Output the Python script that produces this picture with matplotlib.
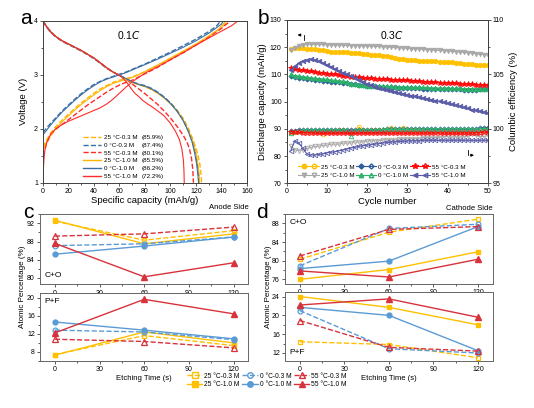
#!/usr/bin/env python
"""charge/discharge curves, cycling and XPS depth profiles (4 panel figure)"""

import numpy as np
import matplotlib
matplotlib.use('Agg')
import matplotlib.pyplot as plt
from matplotlib.lines import Line2D
from matplotlib.legend_handler import HandlerTuple
from matplotlib.ticker import MultipleLocator

plt.rcParams['font.family'] = ['Liberation Sans', 'DejaVu Sans']
plt.rcParams['axes.linewidth'] = 0.7

#################
### PANEL a DATA
#################
# discharge (4 V -> 1 V)
dis_cap_b1 = [0, 1, 3, 6, 10, 15, 20, 25, 30, 35, 40, 45, 50, 55, 60, 65, 70, 75, 80, 85, 90, 95, 100, 105, 110, 114, 117, 119, 120.5, 121.5, 122]
dis_v_b1 = [4.0, 3.96, 3.89, 3.80, 3.71, 3.63, 3.57, 3.51, 3.45, 3.38, 3.31, 3.22, 3.13, 3.05, 2.99, 2.93, 2.87, 2.82, 2.79, 2.74, 2.67, 2.58, 2.47, 2.33, 2.15, 1.95, 1.75, 1.55, 1.35, 1.15, 1.0]
dis_cap_b3 = [0, 1, 3, 6, 10, 15, 20, 25, 30, 35, 40, 45, 50, 55, 60, 65, 70, 75, 80, 85, 90, 95, 100, 105, 110, 114, 117.5, 119.5, 121, 122, 122.5]
dis_v_b3 = [3.99, 3.95, 3.88, 3.79, 3.70, 3.62, 3.56, 3.50, 3.44, 3.37, 3.30, 3.21, 3.12, 3.05, 2.99, 2.93, 2.87, 2.83, 2.80, 2.75, 2.68, 2.59, 2.48, 2.34, 2.16, 1.96, 1.75, 1.55, 1.35, 1.15, 1.0]
dis_cap_y1 = [0, 1, 3, 6, 10, 15, 20, 25, 30, 35, 40, 45, 50, 55, 60, 65, 70, 75, 80, 85, 90, 95, 100, 105, 110, 114, 117.5, 120, 121.5, 122.5, 123]
dis_v_y1 = [4.0, 3.96, 3.89, 3.80, 3.71, 3.63, 3.57, 3.51, 3.45, 3.38, 3.31, 3.22, 3.13, 3.05, 2.99, 2.92, 2.86, 2.82, 2.78, 2.73, 2.66, 2.57, 2.46, 2.33, 2.16, 1.97, 1.77, 1.56, 1.35, 1.15, 1.0]
dis_cap_y3 = [0, 1, 3, 6, 10, 15, 20, 25, 30, 35, 40, 45, 50, 55, 60, 65, 70, 75, 80, 85, 90, 95, 100, 105, 110, 114, 118, 121, 123, 124, 124.5]
dis_v_y3 = [4.0, 3.96, 3.89, 3.80, 3.71, 3.63, 3.57, 3.51, 3.45, 3.38, 3.31, 3.22, 3.13, 3.05, 2.99, 2.92, 2.86, 2.82, 2.78, 2.73, 2.66, 2.58, 2.48, 2.35, 2.19, 2.01, 1.78, 1.56, 1.35, 1.15, 1.0]
dis_cap_r3 = [0, 1, 3, 6, 10, 15, 20, 25, 30, 35, 40, 45, 50, 55, 60, 65, 70, 75, 80, 85, 90, 95, 100, 105, 110, 113, 115, 116.5, 117.5, 118]
dis_v_r3 = [4.0, 3.96, 3.89, 3.80, 3.71, 3.63, 3.57, 3.51, 3.45, 3.38, 3.31, 3.22, 3.13, 3.05, 2.99, 2.92, 2.83, 2.74, 2.65, 2.55, 2.45, 2.33, 2.20, 2.05, 1.88, 1.75, 1.62, 1.45, 1.25, 1.0]
dis_cap_r1 = [0, 1, 3, 6, 10, 15, 20, 25, 30, 35, 40, 45, 50, 55, 60, 63, 66, 69, 72, 75, 78, 82, 86, 90, 95, 100, 104, 107, 109, 110.2, 110.6, 110.8]
dis_v_r1 = [3.98, 3.95, 3.88, 3.79, 3.71, 3.63, 3.57, 3.51, 3.45, 3.38, 3.31, 3.22, 3.13, 3.05, 2.99, 2.93, 2.85, 2.75, 2.66, 2.60, 2.53, 2.46, 2.40, 2.33, 2.24, 2.10, 1.95, 1.80, 1.62, 1.40, 1.20, 1.0]

# charge (low V -> 4 V)
chg_cap_b1 = [0, 1, 3, 6, 10, 15, 20, 25, 30, 35, 40, 45, 50, 55, 60, 65, 70, 75, 80, 90, 100, 110, 120, 130, 136, 140, 141.5]
chg_v_b1 = [1.88, 1.92, 1.98, 2.07, 2.18, 2.31, 2.42, 2.53, 2.63, 2.72, 2.80, 2.87, 2.92, 2.96, 3.00, 3.04, 3.09, 3.14, 3.19, 3.29, 3.40, 3.51, 3.63, 3.77, 3.87, 3.94, 4.0]
chg_cap_b3 = [0, 1, 3, 6, 10, 15, 20, 25, 30, 35, 40, 45, 50, 55, 60, 65, 70, 75, 80, 90, 100, 110, 120, 130, 136, 139.5]
chg_v_b3 = [1.93, 1.96, 2.02, 2.10, 2.20, 2.33, 2.44, 2.55, 2.65, 2.74, 2.82, 2.88, 2.93, 2.97, 3.01, 3.05, 3.10, 3.15, 3.20, 3.31, 3.42, 3.54, 3.66, 3.80, 3.90, 4.0]
chg_cap_y1 = [0, 1, 3, 6, 10, 15, 20, 25, 30, 35, 40, 45, 50, 55, 60, 65, 70, 75, 80, 90, 100, 110, 120, 130, 138, 143.5]
chg_v_y1 = [1.60, 1.66, 1.76, 1.88, 2.00, 2.13, 2.24, 2.35, 2.45, 2.54, 2.63, 2.71, 2.78, 2.84, 2.88, 2.91, 2.95, 3.00, 3.06, 3.18, 3.31, 3.44, 3.57, 3.72, 3.85, 4.0]
chg_cap_y3 = [0, 1, 3, 6, 10, 15, 20, 25, 30, 35, 40, 45, 50, 55, 60, 65, 70, 75, 80, 90, 100, 110, 120, 130, 140, 145]
chg_v_y3 = [1.66, 1.71, 1.80, 1.92, 2.04, 2.16, 2.27, 2.38, 2.48, 2.57, 2.66, 2.74, 2.80, 2.86, 2.90, 2.93, 2.96, 3.01, 3.06, 3.18, 3.30, 3.43, 3.56, 3.70, 3.87, 4.0]
chg_cap_r3 = [0, 1, 3, 6, 10, 15, 20, 25, 30, 35, 40, 45, 50, 55, 60, 65, 70, 75, 80, 90, 100, 110, 120, 130, 140, 147]
chg_v_r3 = [1.50, 1.60, 1.74, 1.88, 1.99, 2.08, 2.17, 2.26, 2.35, 2.44, 2.52, 2.60, 2.68, 2.75, 2.81, 2.86, 2.90, 2.96, 3.02, 3.14, 3.28, 3.41, 3.55, 3.70, 3.86, 4.0]
chg_cap_r1 = [0, 0.3, 0.8, 1.5, 3, 6, 10, 15, 20, 25, 30, 35, 40, 45, 50, 55, 60, 65, 70, 75, 80, 90, 100, 110, 120, 130, 140, 148, 153]
chg_v_r1 = [1.0, 1.25, 1.45, 1.60, 1.75, 1.90, 2.00, 2.08, 2.14, 2.19, 2.24, 2.29, 2.34, 2.39, 2.46, 2.55, 2.66, 2.77, 2.87, 2.95, 3.03, 3.15, 3.28, 3.41, 3.55, 3.68, 3.81, 3.91, 4.0]

a_labels = ['25 \u00b0C-0.3 M', '0 \u00b0C-0.3 M', '55 \u00b0C-0.3 M',
            '25 \u00b0C-1.0 M', '0 \u00b0C-1.0 M', '55 \u00b0C-1.0 M']
a_effs = ['(85.9%)', '(87.4%)', '(80.1%)', '(85.5%)', '(86.2%)', '(72.2%)']

#################
### PANEL b DATA
#################
cycles = np.arange(1, 51)
cap_25_03 = [119.5, 119.6, 119.7, 119.6, 119.5, 119.3, 119.2, 119.0, 118.8, 118.5,
             118.4, 118.4, 118.3, 118.2, 118.1, 118.0, 117.9, 117.8, 117.6, 117.5,
             117.3, 117.2, 117.0, 116.8, 116.7, 116.5, 116.0, 115.6, 115.5, 115.4,
             115.3, 115.2, 115.1, 115.0, 114.9, 114.9, 114.8, 114.7, 114.6, 114.5,
             114.4, 114.3, 114.1, 114.0, 113.9, 113.8, 113.6, 113.5, 113.4, 113.4]
cap_25_10 = [119.0, 119.8, 120.5, 120.8, 121.0, 121.1, 121.1, 121.0, 121.0, 120.9,
             120.9, 120.8, 120.8, 120.7, 120.7, 120.6, 120.6, 120.5, 120.5, 120.5,
             120.4, 120.3, 120.3, 120.2, 120.1, 120.0, 119.9, 119.8, 119.7, 119.6,
             119.5, 119.4, 119.3, 119.2, 119.1, 119.0, 118.9, 118.8, 118.7, 118.6,
             118.5, 118.4, 118.2, 118.1, 118.0, 117.8, 117.6, 117.5, 117.3, 117.2]
cap_55_03 = [112.5, 112.0, 111.8, 111.5, 111.3, 111.1, 110.9, 110.7, 110.5, 110.3,
             110.1, 110.0, 109.8, 109.6, 109.4, 109.2, 109.0, 108.9, 108.8, 108.7,
             108.6, 108.5, 108.4, 108.3, 108.2, 108.1, 108.0, 107.9, 107.9, 107.8,
             107.7, 107.6, 107.5, 107.4, 107.3, 107.2, 107.1, 107.0, 106.9, 106.9,
             106.8, 106.7, 106.6, 106.6, 106.5, 106.4, 106.3, 106.3, 106.2, 106.1]
cap_0_10 = [110.0, 109.6, 109.4, 109.2, 109.0, 108.8, 108.6, 108.5, 108.3, 108.2,
            108.0, 107.8, 107.6, 107.5, 107.3, 106.6, 106.4, 106.2, 106.0, 105.9,
            105.8, 105.8, 105.7, 105.7, 105.6, 105.6, 105.5, 105.5, 105.4, 105.4,
            105.3, 105.3, 105.3, 105.2, 105.2, 105.1, 105.1, 105.0, 105.0, 105.0,
            104.9, 104.9, 104.9, 104.8, 104.8, 104.8, 104.7, 104.7, 104.7, 104.7]
cap_0_03 = [109.3, 109.0, 108.8, 108.6, 108.4, 108.2, 108.0, 107.9, 107.7, 107.6,
            107.4, 107.3, 107.1, 107.0, 106.8, 106.6, 106.4, 106.2, 106.0, 105.8,
            105.7, 105.6, 105.5, 105.4, 105.4, 105.3, 105.2, 105.1, 105.1, 105.0,
            105.0, 104.9, 104.9, 104.8, 104.8, 104.7, 104.7, 104.6, 104.6, 104.6,
            104.5, 104.5, 104.5, 104.4, 104.4, 104.4, 104.4, 104.5, 104.6, 104.6]
cap_55_10 = [111.5, 113.0, 114.2, 115.0, 115.3, 115.5, 115.3, 114.8, 114.2, 113.5,
             112.8, 112.0, 111.3, 110.6, 110.0, 109.3, 108.6, 107.9, 107.2, 106.6,
             106.0, 105.5, 105.0, 104.6, 104.3, 104.0, 103.6, 103.2, 102.9, 102.5,
             102.2, 101.9, 101.6, 101.3, 101.0, 100.7, 100.4, 100.1, 99.8, 99.5,
             99.1, 98.7, 98.3, 97.9, 97.5, 97.1, 96.8, 96.5, 96.2, 95.9]

ce_25_03 = [99.7, 99.7, 99.8, 99.8, 99.8, 99.8, 99.8, 99.8, 99.5, 99.8,
            99.8, 99.8, 99.9, 99.9, 99.8, 99.8, 99.8, 100.15, 99.9, 99.8,
            99.9, 99.9, 99.9, 99.9, 99.9, 100.1, 99.9, 99.9, 100.1, 99.9,
            99.9, 99.9, 99.9, 99.9, 99.9, 99.9, 99.9, 99.9, 99.9, 99.9,
            99.9, 99.9, 99.9, 99.9, 99.9, 99.9, 99.9, 99.9, 100.0, 100.1]
ce_55_03 = [99.75, 99.7, 99.7, 99.65, 99.65, 99.65, 99.6, 99.6, 99.6, 99.6,
            99.6, 99.6, 99.6, 99.6, 99.6, 99.6, 99.6, 99.6, 99.6, 99.6,
            99.6, 99.6, 99.6, 99.6, 99.6, 99.6, 99.6, 99.6, 99.6, 99.6,
            99.6, 99.6, 99.6, 99.6, 99.6, 99.6, 99.6, 99.6, 99.6, 99.6,
            99.6, 99.6, 99.6, 99.6, 99.6, 99.6, 99.65, 99.65, 99.7, 99.7]
ce_0_10 = [99.6, 99.8, 99.85, 99.9, 99.9, 99.9, 99.9, 99.9, 99.9, 99.9,
           99.9, 99.9, 99.9, 99.9, 99.9, 99.35, 99.9, 99.9, 99.9, 99.9,
           99.9, 99.9, 99.9, 99.95, 99.95, 99.95, 99.95, 99.95, 99.95, 99.95,
           99.95, 99.95, 99.95, 100.0, 100.0, 100.0, 100.0, 100.0, 100.0, 100.0,
           100.0, 100.0, 100.0, 100.0, 100.0, 100.0, 100.0, 100.0, 100.0, 100.0]
ce_0_03 = [99.8, 99.85, 99.9, 99.9, 99.9, 99.9, 99.9, 99.9, 99.9, 99.9,
           99.9, 99.9, 99.9, 99.9, 99.9, 99.9, 99.9, 99.9, 99.9, 99.9,
           99.9, 99.9, 99.9, 99.9, 99.95, 99.95, 99.95, 99.95, 99.95, 99.95,
           99.95, 99.95, 99.95, 100.0, 99.95, 99.95, 99.95, 99.95, 99.95, 99.95,
           99.95, 99.95, 99.95, 99.95, 99.95, 99.95, 99.95, 100.1, 100.1, 100.1]
ce_25_10 = [98.4, 98.1, 98.0, 98.1, 98.2, 98.3, 98.4, 98.4, 98.5, 98.5,
            98.6, 98.6, 98.6, 98.7, 98.7, 98.7, 98.8, 98.8, 98.8, 98.9,
            98.9, 98.9, 98.9, 99.0, 99.0, 99.0, 99.0, 99.1, 99.1, 99.1,
            99.1, 99.1, 99.1, 99.2, 99.2, 99.2, 99.2, 99.2, 99.3, 99.3,
            99.2, 99.3, 99.2, 99.3, 99.3, 99.5, 99.4, 99.3, 99.3, 99.4]
ce_55_10 = [98.0, 98.9, 98.7, 98.2, 97.7, 97.6, 97.6, 97.65, 97.7, 97.8,
            97.85, 97.9, 98.0, 98.05, 98.15, 98.25, 98.3, 98.4, 98.45, 98.5,
            98.55, 98.6, 98.65, 98.7, 98.75, 98.8, 98.8, 98.85, 98.85, 98.9,
            98.9, 98.9, 98.9, 98.95, 98.95, 98.95, 98.95, 98.95, 98.95, 98.95,
            98.95, 98.95, 98.95, 98.95, 98.95, 98.95, 98.95, 98.95, 98.95, 98.95]

####################
### PANEL c/d DATA
####################
etch = [0, 60, 120]
# anode side
an_co_25_03 = [92.5, 88.3, 90.4]
an_co_25_10 = [92.7, 87.5, 89.7]
an_co_0_03 = [87.1, 87.5, 89.0]
an_co_0_10 = [85.2, 87.0, 89.0]
an_co_55_03 = [89.2, 89.7, 91.2]
an_co_55_10 = [87.6, 80.2, 83.3]
an_pf_25_03 = [7.4, 11.6, 9.4]
an_pf_25_10 = [7.3, 12.4, 10.0]
an_pf_0_03 = [12.8, 12.4, 10.7]
an_pf_0_10 = [14.6, 12.8, 10.9]
an_pf_55_03 = [10.8, 10.3, 8.9]
an_pf_55_10 = [12.2, 19.6, 16.4]
# cathode side
ca_co_25_03 = [80.3, 86.1, 88.9]
ca_co_25_10 = [76.0, 78.1, 81.9]
ca_co_0_03 = [78.9, 86.9, 87.8]
ca_co_0_10 = [78.3, 79.9, 87.3]
ca_co_55_03 = [81.0, 86.7, 87.3]
ca_co_55_10 = [77.8, 76.5, 80.3]
ca_pf_25_03 = [14.4, 13.8, 11.0]
ca_pf_25_10 = [24.0, 21.7, 18.0]
ca_pf_0_03 = [21.0, 12.9, 12.0]
ca_pf_0_10 = [21.7, 20.0, 12.5]
ca_pf_55_03 = [18.9, 13.2, 12.4]
ca_pf_55_10 = [22.2, 23.5, 19.6]

cond_labels = ['25 \u00b0C-0.3 M', '25 \u00b0C-1.0 M', '0 \u00b0C-0.3 M',
               '0 \u00b0C-1.0 M', '55 \u00b0C-0.3 M', '55 \u00b0C-1.0 M']

# colours
A_YEL, A_BLU, A_RED = '#FFB400', '#3A6EA6', '#FF2B2B'
B_YEL, B_BLU, B_RED, B_GRY, B_GRN, B_PUR = '#FFC000', '#2E5D9E', '#FF0A0A', '#A8A8A8', '#2DB36A', '#5A5CA8'
C_YEL, C_BLU, C_RED = '#FFC000', '#5B9BD5', '#D8323C'
SPINE = '#404040'

tickFont = 5.0
labelFont = 6.8


def styleAxes(ax):
    for s in ax.spines.values():
        s.set_color(SPINE)
    ax.tick_params(which='both', direction='out', labelsize=tickFont, width=0.6,
                   color=SPINE, pad=1.2)
    ax.tick_params(which='major', length=2.5)
    ax.tick_params(which='minor', length=1.5)


fig = plt.figure(figsize=(5.34, 4.08), dpi=100)

#######################
### PANEL a
#######################
ax_a = fig.add_axes([0.0805, 0.552, 0.382, 0.397])
ax_a.plot(dis_cap_y3, dis_v_y3, '--', color=A_YEL, lw=1.0)
ax_a.plot(chg_cap_y3, chg_v_y3, '--', color=A_YEL, lw=1.0)
ax_a.plot(dis_cap_b3, dis_v_b3, '--', color=A_BLU, lw=1.0)
ax_a.plot(chg_cap_b3, chg_v_b3, '--', color=A_BLU, lw=1.0)
ax_a.plot(dis_cap_r3, dis_v_r3, '--', color=A_RED, lw=1.0)
ax_a.plot(chg_cap_r3, chg_v_r3, '--', color=A_RED, lw=1.0)
ax_a.plot(dis_cap_y1, dis_v_y1, '-', color=A_YEL, lw=0.8)
ax_a.plot(chg_cap_y1, chg_v_y1, '-', color=A_YEL, lw=0.8)
ax_a.plot(dis_cap_b1, dis_v_b1, '-', color=A_BLU, lw=0.8)
ax_a.plot(chg_cap_b1, chg_v_b1, '-', color=A_BLU, lw=0.8)
ax_a.plot(dis_cap_r1, dis_v_r1, '-', color=A_RED, lw=0.8)
ax_a.plot(chg_cap_r1, chg_v_r1, '-', color=A_RED, lw=0.8)
ax_a.set_xlim(0, 160)
ax_a.set_ylim(1, 4)
ax_a.xaxis.set_major_locator(MultipleLocator(20))
ax_a.xaxis.set_minor_locator(MultipleLocator(10))
ax_a.yaxis.set_major_locator(MultipleLocator(1))
ax_a.yaxis.set_minor_locator(MultipleLocator(0.5))
styleAxes(ax_a)
ax_a.set_xlabel('Specific capacity (mAh/g)', fontsize=labelFont, labelpad=1)
ax_a.set_ylabel('Voltage (V)', fontsize=labelFont, labelpad=4)
ax_a.text(0.42, 0.91, '0.1$\\it{C}$', transform=ax_a.transAxes, fontsize=7.5,
          ha='center', va='center')

a_styles = ['--', '--', '--', '-', '-', '-']
a_cols = [A_YEL, A_BLU, A_RED, A_YEL, A_BLU, A_RED]
a_handles = [Line2D([], [], ls=a_styles[i], color=a_cols[i], lw=1.0) for i in range(6)]
a_blank = [Line2D([], [], color='none') for i in range(6)]
ax_a.legend(a_handles + a_blank, a_labels + a_effs, ncol=2, loc='lower left',
            bbox_to_anchor=(0.17, -0.01), frameon=False, fontsize=4.5,
            handlelength=2.8, handletextpad=0.5, columnspacing=-2.6,
            labelspacing=0.38)

#######################
### PANEL b
#######################
ax_b = fig.add_axes([0.537, 0.5507, 0.3764, 0.4003])
ax_b2 = ax_b.twinx()
ms = 3.2
b_series = [
    (cap_25_03, ce_25_03, B_YEL, 'o'),
    (cap_25_10, ce_25_10, B_GRY, 'v'),
    (cap_0_03, ce_0_03, B_BLU, 'D'),
    (cap_0_10, ce_0_10, B_GRN, '^'),
    (cap_55_03, ce_55_03, B_RED, '*'),
    (cap_55_10, ce_55_10, B_PUR, '<'),
]
b_handles = []
for cap, ce, col, mk in b_series:
    size = ms + 1.2 if mk == '*' else (ms - 0.6 if mk == 'D' else ms)
    ax_b.plot(cycles, cap, '-', color=col, marker=mk, ms=size, lw=0.8, mew=0.6)
    ax_b2.plot(cycles, ce, '-', color=col, marker=mk, ms=size, lw=0.8, mew=0.6,
               mfc='none')
    hf = Line2D([], [], color=col, marker=mk, ms=size, lw=0.8)
    ho = Line2D([], [], color=col, marker=mk, ms=size, lw=0.8, mfc='none')
    b_handles.append((hf, ho))

ax_b.set_xlim(0, 50)
ax_b.set_ylim(70, 130)
ax_b2.set_ylim(95, 110)
ax_b.xaxis.set_major_locator(MultipleLocator(10))
ax_b.xaxis.set_minor_locator(MultipleLocator(5))
ax_b.yaxis.set_major_locator(MultipleLocator(10))
ax_b.yaxis.set_minor_locator(MultipleLocator(5))
ax_b2.yaxis.set_major_locator(MultipleLocator(5))
ax_b2.yaxis.set_minor_locator(MultipleLocator(2.5))
styleAxes(ax_b)
styleAxes(ax_b2)
ax_b.set_xlabel('Cycle number', fontsize=labelFont, labelpad=1)
ax_b.set_ylabel('Discharge capacity (mAh/g)', fontsize=labelFont, labelpad=2)
ax_b2.set_ylabel('Columbic efficiency (%)', fontsize=labelFont, labelpad=3)
ax_b.text(0.524, 0.908, '0.3$\\it{C}$', transform=ax_b.transAxes, fontsize=7.5,
          ha='center', va='center')

# direction hints for the two y axes
ax_b.annotate('', xy=(0.04, 0.908), xytext=(0.085, 0.908), xycoords='axes fraction',
              arrowprops=dict(arrowstyle='-|>', color='k', lw=0.6, mutation_scale=4))
ax_b.plot([0.085, 0.085], [0.908, 0.875], color='k', lw=0.6, transform=ax_b.transAxes)
ax_b.annotate('', xy=(0.945, 0.172), xytext=(0.9, 0.172), xycoords='axes fraction',
              arrowprops=dict(arrowstyle='-|>', color='k', lw=0.6, mutation_scale=4))
ax_b.plot([0.9, 0.9], [0.205, 0.172], color='k', lw=0.6, transform=ax_b.transAxes)

ax_b2.legend(b_handles, cond_labels, handler_map={tuple: HandlerTuple(ndivide=None, pad=0)},
             ncol=3, loc='lower left', bbox_to_anchor=(0.03, 0.0), frameon=False,
             fontsize=4.5, handlelength=3.3, handletextpad=0.3, columnspacing=0.2,
             labelspacing=0.45)

#######################
### PANELS c and d
#######################
def plotXps(ax, vals):
    y03, y10, b03, b10, r03, r10 = vals
    ax.plot(etch, y03, '--', color=C_YEL, marker='s', ms=3.5, mfc='none', lw=1.0, mew=0.9)
    ax.plot(etch, y10, '-', color=C_YEL, marker='s', ms=3.5, lw=1.0)
    ax.plot(etch, b03, '--', color=C_BLU, marker='o', ms=3.5, mfc='none', lw=1.0, mew=0.9)
    ax.plot(etch, b10, '-', color=C_BLU, marker='o', ms=3.5, lw=1.0)
    ax.plot(etch, r03, '--', color=C_RED, marker='^', ms=3.8, mfc='none', lw=1.0, mew=0.9)
    ax.plot(etch, r10, '-', color=C_RED, marker='^', ms=3.8, lw=1.0)
    ax.set_xlim(-10, 130)
    ax.xaxis.set_major_locator(MultipleLocator(30))
    ax.xaxis.set_minor_locator(MultipleLocator(15))
    styleAxes(ax)
    for s in ax.spines.values():
        s.set_color('#666666')


ax_c1 = fig.add_axes([0.0749, 0.3027, 0.3904, 0.174])
ax_c2 = fig.add_axes([0.0749, 0.1152, 0.3904, 0.1667])
plotXps(ax_c1, [an_co_25_03, an_co_25_10, an_co_0_03, an_co_0_10, an_co_55_03, an_co_55_10])
plotXps(ax_c2, [an_pf_25_03, an_pf_25_10, an_pf_0_03, an_pf_0_10, an_pf_55_03, an_pf_55_10])
ax_c1.set_ylim(78.5, 94.2)
ax_c1.yaxis.set_major_locator(MultipleLocator(4))
ax_c1.yaxis.set_minor_locator(MultipleLocator(2))
ax_c2.set_ylim(6, 21)
ax_c2.yaxis.set_major_locator(MultipleLocator(4))
ax_c2.yaxis.set_minor_locator(MultipleLocator(2))
ax_c1.text(0.02, 0.08, 'C+O', transform=ax_c1.transAxes, fontsize=6, va='bottom')
ax_c2.text(0.02, 0.93, 'P+F', transform=ax_c2.transAxes, fontsize=6, va='top')
ax_c1.text(1.0, 1.03, 'Anode Side', transform=ax_c1.transAxes, fontsize=5.5,
           ha='right', va='bottom')
ax_c2.set_xlabel('Etching Time (s)', fontsize=5.5, labelpad=1.5)

ax_d1 = fig.add_axes([0.5337, 0.3051, 0.389, 0.1703])
ax_d2 = fig.add_axes([0.5337, 0.1152, 0.389, 0.1684])
plotXps(ax_d1, [ca_co_25_03, ca_co_25_10, ca_co_0_03, ca_co_0_10, ca_co_55_03, ca_co_55_10])
plotXps(ax_d2, [ca_pf_25_03, ca_pf_25_10, ca_pf_0_03, ca_pf_0_10, ca_pf_55_03, ca_pf_55_10])
ax_d1.set_ylim(75.1, 90)
ax_d1.yaxis.set_major_locator(MultipleLocator(4))
ax_d1.yaxis.set_minor_locator(MultipleLocator(2))
ax_d2.set_ylim(10.3, 24.9)
ax_d2.yaxis.set_major_locator(MultipleLocator(4))
ax_d2.yaxis.set_minor_locator(MultipleLocator(2))
ax_d1.text(0.02, 0.93, 'C+O', transform=ax_d1.transAxes, fontsize=6, va='top')
ax_d2.text(0.02, 0.08, 'P+F', transform=ax_d2.transAxes, fontsize=6, va='bottom')
ax_d1.text(1.0, 1.03, 'Cathode Side', transform=ax_d1.transAxes, fontsize=5.5,
           ha='right', va='bottom')
ax_d2.set_xlabel('Etching Time (s)', fontsize=5.5, labelpad=1.5)

fig.text(23 / 534., 1 - 287 / 408., 'Atomic Percentage (%)', rotation=90,
         fontsize=5.8, ha='center', va='center')
fig.text(268 / 534., 1 - 287 / 408., 'Atomic Percentage (%)', rotation=90,
         fontsize=5.8, ha='center', va='center')

# shared legend for c and d
cd_handles = [
    Line2D([], [], ls='--', color=C_YEL, marker='s', ms=4, mfc='none', lw=1.0),
    Line2D([], [], ls='-', color=C_YEL, marker='s', ms=4, lw=1.0),
    Line2D([], [], ls='--', color=C_BLU, marker='o', ms=4, mfc='none', lw=1.0),
    Line2D([], [], ls='-', color=C_BLU, marker='o', ms=4, lw=1.0),
    Line2D([], [], ls='--', color=C_RED, marker='^', ms=4.5, mfc='none', lw=1.0),
    Line2D([], [], ls='-', color=C_RED, marker='^', ms=4.5, lw=1.0),
]
fig.legend(cd_handles, cond_labels, ncol=3, loc='center',
           bbox_to_anchor=(267 / 534., 1 - 380.5 / 408.), frameon=False, fontsize=4.8,
           handlelength=2.3, handletextpad=0.3, columnspacing=0.4, labelspacing=0.3)

# panel letters
for lt, x, y in [('a', 26, 19), ('b', 263, 19), ('c', 28, 212), ('d', 262, 212)]:
    fig.text(x / 534., 1 - y / 408., lt, fontsize=15, ha='center', va='center')

fig.savefig('out.png', dpi=100)
